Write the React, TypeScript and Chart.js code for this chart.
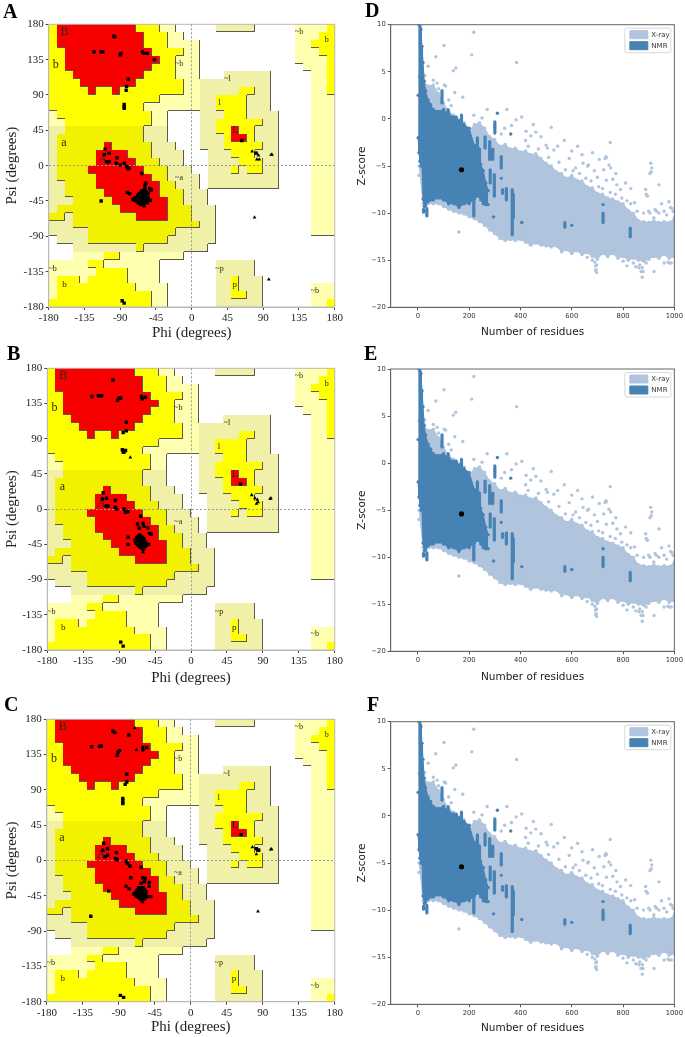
import React, { useEffect, useRef } from "react";
import { Chart, registerables } from "chart.js";

Chart.register(...registerables);

// ---------- Ramachandran region map: 36 rows (psi 180 -> -180), 10 degree cells, run-length coded
const regionRows = [
  "Y1 R10 Y3 P2 .5 K5 .5 P4 Y1",
  "Y1 R11 Y3 P2 .14 P3 Y2",
  "Y1 R11 Y3 P4 .12 P2 Y3",
  "Y2 R11 Y4 P2 .12 P3 Y2",
  "Y2 R12 Y2 P3 .12 P4 Y1",
  "Y2 R11 Y3 P3 .13 P3 Y1",
  "Y3 R9 Y4 P3 .3 K6 .5 P2 Y1",
  "Y4 R7 Y6 P2 K9 .5 P2 Y1",
  "Y5 R1 Y2 R1 Y8 P2 K5 Y2 K2 .5 P2 Y1",
  "Y14 P5 K2 Y4 K3 .5 P3",
  "Y12 P7 K2 Y4 K3 .5 P3",
  "P1 Y12 P2 .4 K3 Y3 K4 .4 P3",
  "P2 Y11 P2 .4 K2 Y6 K2 .4 P3",
  "K2 D10 K3 .4 K2 Y2 R1 Y2 K3 .4 P3",
  "K1 D11 K3 .4 K3 Y1 R2 Y1 K3 .4 P3",
  "K1 D6 R1 D5 K3 .3 K3 Y5 K2 .4 P3",
  "K1 D5 R4 D3 K4 .3 K3 Y3 K3 .4 P3",
  "K1 D5 R5 D3 K3 .3 K4 Y3 K2 .4 P3",
  "K1 D4 R7 D3 K3 .2 K3 Y1 K1 Y2 K2 .4 P3",
  "K1 D5 R7 D2 K4 .1 K9 .4 P3",
  "K2 D4 R8 D2 K3 .1 K9 .4 P3",
  "K2 D5 R7 D3 K3 .13 P3",
  "K3 D5 R7 D2 K3 .13 P3",
  "K1 D8 R6 D3 K3 .12 P3",
  "D2 K1 D8 R4 D3 K3 .12 P3",
  "K3 D16 K2 .12 P3",
  "K5 D11 K5 .12 P3",
  ".1 K4 D10 K6 .15",
  ".3 K8 D1 K8 .16",
  ".3 P4 Y2 P8 .19",
  "P5 Y2 P7 .7 K5 .10",
  "P6 Y4 P4 .7 K5 .10",
  "P1 Y3 P1 Y5 P4 .7 K2 Y1 K3 .9",
  "P1 Y10 P4 .6 K2 Y1 K3 .6 P3",
  "P1 Y12 P2 .6 K2 Y2 K2 .6 P3",
  "Y13 P2 .6 K6 .6 P2 Y1",
];
const regionColors: Record<string, string> = { R: "#f80000", Y: "#ffff00", D: "#f2f200", P: "#ffffb0", K: "#f0f0a8" };
const regionRank: Record<string, number> = { ".": 0, P: 1, K: 1, Y: 2, D: 2, R: 3 };

const regionLabels: [string, number, number, number][] = [
  ["B", -160, 170, 12], ["b", -171, 129, 12], ["a", -161, 29, 12], ["A", -112, 7, 12],
  ["~b", -16, 129, 8], ["~a", -16, -16, 8], ["~l", 45, 110, 8], ["l", 35, 80, 9], ["L", 55, 45, 10],
  ["~p", 35, -131, 8], ["p", 54, -151, 9], ["b", -160, -151, 9], ["~b", -175, -131, 8],
  ["~b", 135, 170, 8], ["b", 170, 160, 8], ["~b", 155, -160, 8],
];
const ramaTicks = [-180, -135, -90, -45, 0, 45, 90, 135, 180];

// ---------- residues: [phi, psi]
const squaresA = [[-98,165],[-97,164],[-123,145],[-114,145],[-112,145],[-90,141],[-89,143],[-62,145],[-60,143],[-56,143],[-47,135],[-80,110],[-82,101],[-82.5,96],[-85,78],[-85,75],[-85,73],[-109,21],[-110,14],[-104,16],[-94,10],[-107,5],[-104,5],[-95,3],[-90,1],[-85,3],[-82,-1],[-80,-4],[-79,-3],[-63,-10],[-114,-45],[-57.5,-22],[-59,-25],[-51,-31],[-53,-29],[-81,-34],[-78,-36],[-74,-43],[-52,-44],[-60,-51],[63,32],[81,16],[-87.5,-172],[-85,-175]];
const blobA = [[-68,-38],[-66,-36],[-66,-41],[-65,-44],[-64,-34],[-64,-39],[-63,-42],[-63,-46],[-62,-32],[-62,-37],[-61,-40],[-61,-44],[-61,-48],[-60,-35],[-60,-38],[-60,-42],[-59,-30],[-59,-45],[-58,-33],[-58,-40],[-57,-37],[-57,-43],[-56,-47],[-55,-35],[-55,-41],[-71,-41],[-72,-44],[-69,-45],[-67,-47],[-64,-49]];
const trianglesA = [[76,18],[81,16],[84,13],[82,8],[85,8],[100,14],[101,14],[79,-66],[97,-145]];

const squaresB = [[-98,165],[-124,144],[-116,145],[-112,145],[-90,142],[-92,139],[-88,142],[-62,144],[-61,141],[-57,143],[-81,111],[-81,100],[-85,98],[-86,76],[-84,72.5],[-82,75],[-85,73],[-110,21],[-111,13],[-106,14],[-95,11],[-106,4],[-104,4],[-95,2.5],[-93,0],[-84,0],[-82,-4],[-79,-3],[-63,-9],[-67,-19],[-60,-18],[-59,-22],[-65,-24],[-54,-24],[-79,-36],[-79,-45],[-52,-31],[-50,-32],[-53,-45],[62,32],[-88,-170],[-85,-175]];
const blobB = [[-70,-40],[-69,-43],[-68,-37],[-67,-41],[-67,-45],[-66,-35],[-66,-39],[-65,-43],[-65,-47],[-64,-33],[-64,-37],[-64,-41],[-63,-45],[-63,-49],[-62,-39],[-62,-43],[-61,-36],[-61,-47],[-60,-41],[-60,-51],[-59,-38],[-59,-44],[-58,-48],[-57,-42],[-56,-46]];
const trianglesB = [[76,18],[80,14],[83,12],[82,7],[84,9],[99,13],[100,14],[-76,66],[-60,-55]];

const squaresC = [[-97.5,165],[-95,163],[-77.5,160],[-124,145],[-114,145.5],[-112,146],[-89,140],[-91,138],[-92,134],[-60,144],[-60,141],[-55,144],[-80,110],[-80,100],[-82,97],[-85,79],[-85,77],[-85,74],[-85,72.5],[-109,22],[-110,13],[-104,15],[-93,10],[-104,7],[-107,5],[-94,2.5],[-92,1],[-81,-1],[-79,-4],[-76,-7],[-62,-9],[-75,-22],[-60,-22],[-57,-23],[-58,-27],[-62,-29],[-52,-28],[-52,-33],[-81,-33],[-77,-36],[-102.5,-39],[-50,-46],[-125,-71],[63,33],[82,15],[84,13],[85,13],[-88,-172],[-84,-174.5]];
const blobC = [[-71,-43],[-69,-41],[-68,-45],[-67,-38],[-66,-42],[-66,-46],[-65,-35],[-65,-40],[-64,-44],[-64,-48],[-63,-36],[-63,-41],[-62,-45],[-62,-50],[-61,-38],[-61,-43],[-60,-47],[-60,-35],[-59,-41],[-59,-45],[-58,-37],[-58,-49],[-57,-43],[-56,-40],[-55,-46]];
const trianglesC = [[-70,169],[-68,141],[-60,-53],[77,17],[82,8],[100,14],[101,14.5],[84,-65]];

// ---------- Z-score plot
const xrayN = [5,20,40,60,80,100,120,140,160,180,200,220,240,260,280,300,320,340,360,380,400,420,440,460,480,500,520,540,560,580,600,620,640,660,680,700,720,740,760,780,800,820,840,860,880,900,920,940,960,980,1000];
const xrayHigh = [4.5,4,3.5,3.6,2.7,1.7,0.8,0.4,-0.1,-0.4,-1.3,-0.6,-0.4,-1,-1.9,-2.2,-2.9,-2.7,-3.2,-3.1,-3.5,-3.4,-3.8,-3.7,-4.2,-4.7,-5,-5.6,-5.8,-6.3,-6,-6.5,-6.6,-7.2,-7.3,-7.9,-8,-8.4,-8.5,-8.8,-9,-9.7,-10,-10.8,-10.9,-11,-10.8,-11,-10.9,-11,-10.5];
const xrayLow = [-5,-9,-9,-9,-9,-9.3,-9.6,-9.8,-10,-10.1,-10.4,-10.6,-10.9,-11.3,-11.8,-12.2,-12.7,-12.9,-12.8,-12.9,-12.8,-13.1,-13.4,-13.2,-13.4,-13.5,-13.6,-13.5,-14.1,-13.9,-14.3,-14,-14.4,-14.2,-14.6,-14.9,-14.3,-14.6,-14.3,-14.8,-14.6,-15,-14.8,-15,-15.1,-14.9,-14.6,-14.8,-14.4,-14.8,-14.6];
const xrayOutliers = [[218,9.2],[102,7.8],[210,6.8],[385,6],[70,6.6],[40,5.6],[148,5.4],[138,5.1],[27,4.6],[108,3.5],[144,2.8],[175,2.3],[103,3.6],[270,1],[347,1],[218,0.4],[405,0.2],[383,-0.1],[450,-0.6],[520,-0.9],[422,-1.3],[338,-1],[571,-2.3],[750,-2.5],[623,-2.9],[681,-3.6],[733,-4],[707,-4.3],[644,-4.7],[662,-5],[752,-5.2],[908,-4.7],[912,-5.2],[905,-5.8],[910,-5.6],[940,-7],[979,-8.8],[990,-9.5],[772,-5.8],[810,-6.8],[888,-7.5],[4,-6],[160,-12],[921,-16.2],[960,-15.3],[980,-15.3],[590,-4.2],[600,-3.4],[615,-5.2],[640,-3.8],[665,-4.9],[688,-5.5],[700,-6.2],[725,-5.4],[735,-6.5],[745,-4.9],[760,-6.4],[730,-4.2],[735,-4.1],[790,-7.5],[776,-7],[830,-7.4],[815,-8.7],[845,-8.9],[890,-8],[895,-8.2],[925,-9.6],[950,-9],[460,-1.4],[480,-1.9],[500,-2.8],[505,-3.1],[530,-3.3],[545,-2.9],[420,-2.3],[430,-2.9],[440,-1.8],[325,-1.6],[365,-0.7],[300,-0.8],[250,0.1],[240,-0.8],[120,2],[130,1.4],[80,3.2],[75,3.8],[60,4.1],[880,-10],[900,-9.8],[905,-10],[920,-10.5],[930,-9.8],[940,-10],[960,-9.8],[970,-10.2],[985,-9.4],[995,-9.8],[693,-15.6],[695,-16],[697,-16.3],[693,-16.1],[697,-15.5],[690,-15.2],[875,-16.8],[870,-16.2],[862,-15.8],[878,-16.2],[850,-15.7],[840,-15.3],[865,-15.5],[875,-15.8],[890,-15.3],[975,-15.2],[988,-15.3],[800,-15.1],[815,-15.6],[660,-14.7],[680,-15],[470,-3.2],[510,-4.1],[550,-4.6],[575,-5.4],[605,-5.5],[630,-5.8],[655,-6.3],[675,-6.6],[705,-7.2],[720,-7.4],[750,-7.8],[770,-8],[795,-8.4],[830,-9],[855,-9.8]];
const nmrN = [1,4,8,12,16,20,25,30,40,50,60,80,100,120,140,160,180,200,220,235,245,255,265,274];
const nmrHigh = [2.5,10,10,9.5,7.7,6,4,3,2,1.5,1,0.8,1,0.5,0.2,-0.2,-0.6,-1,-2.8,-3.1,-4.8,-5.5,-6.8,-7.6];
const nmrLow = [-2,-3.6,-4.5,-5,-5,-8.5,-9.3,-9.2,-8.8,-8.6,-8.6,-8.4,-8.6,-9,-9,-9.4,-9,-9,-8.5,-8.2,-8.6,-9,-9.1,-9.1];
const nmrStemN = [94,35,22,170,218,232,240,262,280,292,298,282,300,325,325,330,345,368,368,372,573,722,828,118,150,10,14];
const nmrStemLow = [1.7,-10.3,-9.9,0.4,-10.3,-3,-3.2,-3.1,-4.3,-4.3,-8.2,-6.8,-1.5,-5.2,-6.3,-7.9,-8.6,-12.3,-9.5,-10.5,-11.5,-11,-12.5,0,-1.2,7.5,4];
const nmrStemHigh = [3,-9.5,-9.6,-1,-8,-2,-5,-1.9,-2.4,-3.2,-5.9,-5.4,-0.3,-4,-6.3,-7.5,-7.4,-7.5,-7.8,-8,-11,-10,-11.6,1,0.2,9.7,7.7];
const nmrPoints = [[310,0.6],[362,-1.6],[295,-10.4],[405,-11],[600,-11.3],[722,-9.1]];
const thisStructure = [[170, -5.4]];
const zTicks = [-20, -15, -10, -5, 0, 5, 10];
const nTicks = [0, 200, 400, 600, 800, 1000];

const SERIF = "'Liberation Serif', serif";
const SANS = "'DejaVu Sans', sans-serif";
const XRAY = "#b0c4de";
const NMR = "#4682b4";

const parsedRows = regionRows.map((row) => {
  let out = "";
  row.split(" ").forEach((t) => (out += t[0].repeat(Number(t.slice(1)))));
  return out;
});

type Box = { cx: number; cy: number; cw: number; ch: number; l: number; r: number; t: number; b: number };

const fixAxes = (box: Box) => ({
  x: (s: any) => { s.height = box.cy + box.ch - box.b; },
  y: (s: any) => { s.width = box.l - box.cx; },
  padding: { top: box.t - box.cy, right: box.cx + box.cw - box.r, left: 0, bottom: 0 },
});

const regionPlugin = {
  id: "regions",
  beforeDraw(chart: any) {
    const { ctx, scales: { x, y } } = chart;
    const cell = (c: number, j: number) => ({
      x0: Math.round(x.getPixelForValue(-180 + c * 10)),
      x1: Math.round(x.getPixelForValue(-170 + c * 10)),
      y0: Math.round(y.getPixelForValue(180 - j * 10)),
      y1: Math.round(y.getPixelForValue(170 - j * 10)),
    });
    ctx.save();
    parsedRows.forEach((row, j) => {
      for (let c = 0; c < 36; c++) {
        const k = row[c];
        if (k === "." || !k) continue;
        const b = cell(c, j);
        ctx.fillStyle = regionColors[k];
        ctx.fillRect(b.x0, b.y0, b.x1 - b.x0, b.y1 - b.y0);
      }
    });
    ctx.strokeStyle = "#5a5a50";
    ctx.lineWidth = 1;
    parsedRows.forEach((row, j) => {
      for (let c = 0; c < 36; c++) {
        const rank = regionRank[row[c]];
        if (!rank) continue;
        const b = cell(c, j);
        if (c < 35 && regionRank[row[c + 1]] < rank) {
          ctx.beginPath(); ctx.moveTo(b.x1 - 0.5, b.y0); ctx.lineTo(b.x1 - 0.5, b.y1); ctx.stroke();
        }
        if (j < 35 && regionRank[parsedRows[j + 1][c]] < rank) {
          ctx.beginPath(); ctx.moveTo(b.x0, b.y1 - 0.5); ctx.lineTo(b.x1, b.y1 - 0.5); ctx.stroke();
        }
      }
    });
    ctx.textAlign = "center";
    ctx.textBaseline = "middle";
    ctx.fillStyle = "#2a2a18";
    regionLabels.forEach(([txt, phi, psi, size]) => {
      ctx.font = `${size}px ${SERIF}`;
      ctx.fillText(txt, x.getPixelForValue(phi), y.getPixelForValue(psi));
    });
    ctx.strokeStyle = "#b8b8b8";
    ctx.lineWidth = 1;
    const a = chart.chartArea;
    ctx.strokeRect(a.left, a.top, a.right - a.left, a.bottom - a.top);
    ctx.restore();
  },
};

const pts = (list: number[][]) => list.map(([a, b]) => ({ x: a, y: b }));

function ramaConfig(box: Box, squares: number[][], blob: number[][], triangles: number[][]): any {
  const fix = fixAxes(box);
  const axis = (title: string, after: any, pad: any) => ({
    type: "linear",
    min: -180,
    max: 180,
    afterBuildTicks: (s: any) => { s.ticks = ramaTicks.map((v) => ({ value: v })); },
    afterFit: after,
    title: { display: true, text: title, color: "#222", font: { family: SERIF, size: 15 }, padding: pad },
    ticks: { color: "#222", font: { family: SERIF, size: 11 }, maxRotation: 0, autoSkip: false, padding: 2 },
    border: { color: "#b8b8b8", dash: [2, 2] },
    grid: {
      color: (c: any) => (c.tick && c.tick.value === 0 ? "#9a9a9a" : "rgba(0,0,0,0)"),
      tickColor: "#444",
      tickLength: 3,
    },
  });
  return {
    type: "scatter",
    data: {
      datasets: [
        { label: "Residues", data: pts(squares), pointStyle: "rect", pointRadius: 2.4, backgroundColor: "#000", borderWidth: 0 },
        { label: "Helix cluster", data: pts(blob), pointStyle: "rect", pointRadius: 2.6, backgroundColor: "#000", borderWidth: 0 },
        { label: "Gly", data: pts(triangles), pointStyle: "triangle", pointRadius: 2.2, backgroundColor: "#000", borderWidth: 0 },
      ],
    },
    options: {
      animation: false,
      responsive: false,
      layout: { padding: fix.padding },
      plugins: { legend: { display: false }, tooltip: { enabled: false } },
      scales: {
        x: axis("Phi (degrees)", fix.x, { top: 0, bottom: 0 }),
        y: axis("Psi (degrees)", fix.y, { top: 3, bottom: 0 }),
      },
    },
    plugins: [regionPlugin],
  };
}

const stemPoints = () => {
  const out: any[] = [];
  nmrStemN.forEach((n, i) => {
    out.push({ x: n, y: nmrStemLow[i] }, { x: n, y: nmrStemHigh[i] }, { x: n, y: null });
  });
  return out;
};

const legendPlugin = {
  id: "legendPlace",
  afterLayout(chart: any) {
    const a = chart.chartArea;
    chart.legend.left = a.right - 47.5;
    chart.legend.top = a.top + 3;
  },
  beforeDraw(chart: any) {
    const { ctx, chartArea: a } = chart;
    ctx.save();
    ctx.strokeStyle = "#d8d8d8";
    ctx.fillStyle = "#fff";
    ctx.lineWidth = 1;
    ctx.beginPath();
    ctx.roundRect(a.right - 49.5, a.top + 3.5, 46, 24.5, 2);
    ctx.fill();
    ctx.stroke();
    ctx.restore();
  },
  afterDatasetsDraw(chart: any) {
    const { ctx, chartArea: a } = chart;
    ctx.save();
    ctx.strokeStyle = "#666";
    ctx.lineWidth = 1;
    ctx.strokeRect(a.left, a.top, a.right - a.left, a.bottom - a.top);
    ctx.restore();
  },
};

function zConfig(box: Box): any {
  const fix = fixAxes(box);
  const band = (label: string, ys: number[], xs: number[], color: string, fill: any, order: number) => ({
    label,
    data: xs.map((n, i) => ({ x: n, y: ys[i] })),
    showLine: true,
    fill,
    order,
    borderColor: color,
    backgroundColor: color,
    borderWidth: 1,
    pointRadius: 1.7,
    pointBackgroundColor: color,
    pointBorderWidth: 0,
  });
  return {
    type: "scatter",
    data: {
      datasets: [
        { label: "This structure", data: pts(thisStructure), pointRadius: 2.6, backgroundColor: "#000", borderWidth: 0, order: 0 },
        { label: "NMR points", data: pts(nmrPoints), pointRadius: 1.7, backgroundColor: NMR, borderWidth: 0, order: 1 },
        { label: "NMR stems", data: stemPoints(), showLine: true, spanGaps: false, pointRadius: 0, borderColor: NMR, backgroundColor: NMR, borderWidth: 3.2, borderCapStyle: "round", order: 2 },
        band("NMR", nmrHigh, nmrN, NMR, "+1", 3),
        band("NMR lower", nmrLow, nmrN, NMR, false, 4),
        { label: "X-ray points", data: pts(xrayOutliers), pointRadius: 1.7, backgroundColor: XRAY, borderWidth: 0, order: 5 },
        band("X-ray", xrayHigh, xrayN, XRAY, "+1", 6),
        band("X-ray lower", xrayLow, xrayN, XRAY, false, 7),
      ],
    },
    options: {
      animation: false,
      responsive: false,
      layout: { padding: fix.padding },
      plugins: {
        tooltip: { enabled: false },
        legend: {
          display: true,
          position: "chartArea",
          align: "start",
          reverse: true,
          labels: {
            boxWidth: 18,
            boxHeight: 8,
            padding: 3,
            color: "#333",
            font: { family: SANS, size: 7 },
            filter: (it: any) => it.text === "X-ray" || it.text === "NMR",
          },
        },
      },
      scales: {
        x: {
          type: "linear",
          min: -106,
          max: 1000,
          afterBuildTicks: (s: any) => { s.ticks = nTicks.map((v) => ({ value: v })); },
          afterFit: fix.x,
          title: { display: true, text: "Number of residues", color: "#222", font: { family: SANS, size: 10.5 }, padding: { top: 4, bottom: 0 } },
          ticks: { color: "#333", font: { family: SANS, size: 6.8 }, maxRotation: 0, autoSkip: false, padding: 2, callback: (v: any) => String(v) },
          border: { color: "#666" },
          grid: { drawOnChartArea: false, tickColor: "#555", tickLength: 3 },
        },
        y: {
          type: "linear",
          min: -20,
          max: 10,
          afterBuildTicks: (s: any) => { s.ticks = zTicks.map((v) => ({ value: v })); },
          afterFit: fix.y,
          title: { display: true, text: "Z-score", color: "#222", font: { family: SANS, size: 10.5 }, padding: { top: 11, bottom: 0 } },
          ticks: {
            color: "#333",
            font: { family: SANS, size: 6.8 },
            padding: 2,
            callback: (v: any) => String(v).replace("-", "\u2212"),
          },
          border: { color: "#666" },
          grid: { drawOnChartArea: false, tickColor: "#555", tickLength: 3 },
        },
      },
    },
    plugins: [legendPlugin],
  };
}

const ramaBoxes: Box[] = [
  { cx: 0, cy: 5, cw: 345, ch: 337, l: 48.7, r: 336.7, t: 24.3, b: 307 },
  { cx: 0, cy: 350, cw: 345, ch: 337, l: 47.3, r: 335.3, t: 368.3, b: 650 },
  { cx: 0, cy: 700, cw: 345, ch: 336, l: 46.8, r: 334.8, t: 719.3, b: 1001.7 },
];
const zBoxes: Box[] = [
  { cx: 345, cy: 5, cw: 340, ch: 334, l: 390.7, r: 675.3, t: 24.7, b: 307.3 },
  { cx: 345, cy: 350, cw: 340, ch: 334, l: 390.7, r: 675.3, t: 369, b: 651.3 },
  { cx: 345, cy: 700, cw: 340, ch: 335, l: 390.7, r: 675.3, t: 721.7, b: 1004.3 },
];
const panelLetters: [string, number, number][] = [
  ["A", 3, 1], ["B", 7, 343], ["C", 4, 694], ["D", 365, 0], ["E", 364, 343], ["F", 367, 694],
];

function Panel({ box, make }: { box: Box; make: () => any }) {
  const ref = useRef<HTMLCanvasElement>(null);
  useEffect(() => {
    const chart = new Chart(ref.current as HTMLCanvasElement, make());
    return () => chart.destroy();
  }, []);
  return (
    <canvas
      ref={ref}
      width={box.cw}
      height={box.ch}
      style={{ position: "absolute", left: box.cx, top: box.cy, width: box.cw, height: box.ch, filter: "blur(0.35px)" }}
    />
  );
}

export default function App() {
  const ramaData = [
    [squaresA, blobA, trianglesA],
    [squaresB, blobB, trianglesB],
    [squaresC, blobC, trianglesC],
  ];
  return (
    <div style={{ position: "absolute", left: 0, top: 0, width: 685, height: 1037, background: "#fff", overflow: "hidden" }}>
      {ramaBoxes.map((b, i) => (
        <Panel key={"r" + i} box={b} make={() => ramaConfig(b, ramaData[i][0], ramaData[i][1], ramaData[i][2])} />
      ))}
      {zBoxes.map((b, i) => (
        <Panel key={"z" + i} box={b} make={() => zConfig(b)} />
      ))}
      {panelLetters.map(([t, x, y]) => (
        <div key={t} style={{ position: "absolute", left: x, top: y, font: `bold 20px ${SERIF}`, lineHeight: "20px", color: "#000" }}>
          {t}
        </div>
      ))}
    </div>
  );
}
